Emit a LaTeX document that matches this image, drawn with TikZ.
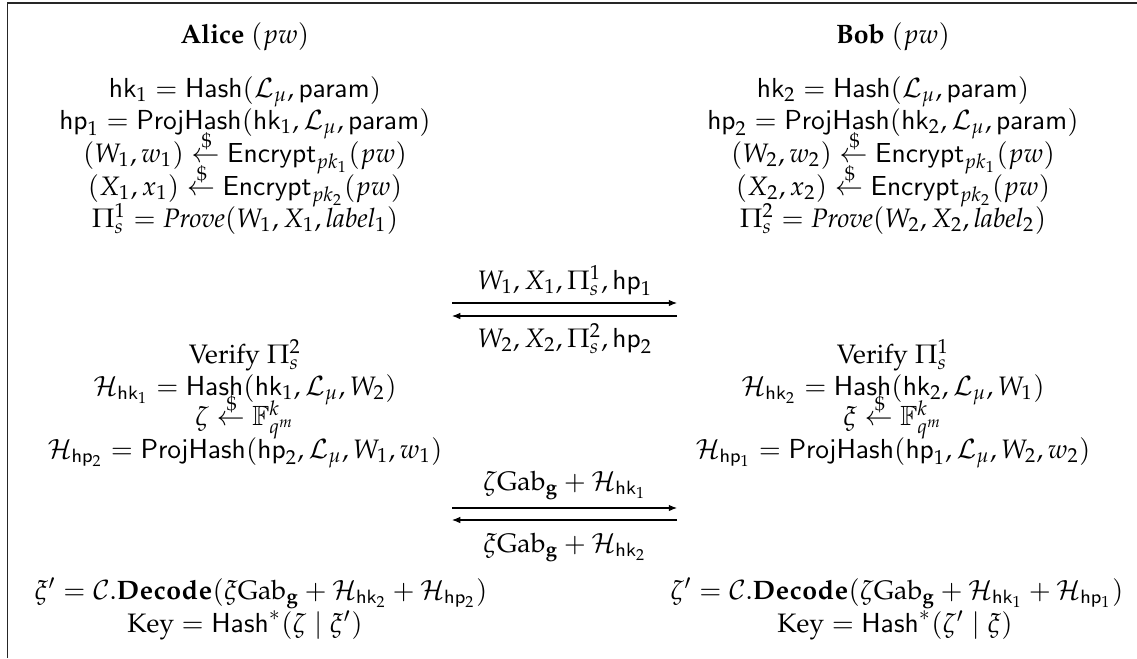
\documentclass[tikz,border=0pt]{standalone}
\usepackage{amsmath}
\usepackage[T1]{fontenc}
\usepackage{mathpazo}
\renewcommand{\sfdefault}{lmss}
\DeclareMathAlphabet{\mybb}{U}{msb}{m}{n}
\usetikzlibrary{arrows.meta}
\newcommand{\Lm}{\mathcal{L}_\mu}
\newcommand{\hkk}[1]{\mathsf{hk}_{#1}}
\newcommand{\hpp}[1]{\mathsf{hp}_{#1}}
\newcommand{\rnd}{\mathrel{\hbox{\ooalign{$\leftarrow$\cr\hidewidth\raisebox{5.2pt}{$\scriptstyle\mkern2mu\$$}\hidewidth\cr}}}}
\newcommand{\Gabg}{\mathrm{Gab}_{\mathbf{g}}}
\begin{document}
\begin{tikzpicture}[x=0.3636pt,y=-0.3636pt,
  every node/.style={inner sep=0pt,outer sep=0pt,anchor=base,font=\fontsize{9.7}{12}\selectfont},
  msg/.style={-{Latex[length=3pt,width=2.4pt]},line width=0.4pt},
  frame/.style={line width=0.7pt,draw=black!85}]
\useasboundingbox (0,0) rectangle (1137,658);
\draw[frame] (7.5,658) -- (7.5,3) -- (1137,3);
% Alice column
\node (alice) at (245,43) {\textbf{Alice} $(pw)$};
\node (l1) at (245,97) {$\hkk1 = \mathsf{Hash}(\Lm, \mathsf{param})$};
\node (l2) at (245,129) {$\hpp1 = \mathsf{ProjHash}(\hkk1, \Lm, \mathsf{param})$};
\node (l3) at (245,162) {$(W_1, w_1) \rnd \mathsf{Encrypt}_{pk_1}(pw)$};
\node (l4) at (245,195) {$(X_1, x_1) \rnd \mathsf{Encrypt}_{pk_2}(pw)$};
\node (l5) at (245,227) {$\Pi_s^1 = \mathit{Prove}(W_1, X_1, \mathit{label}_1)$};
\node (l6) at (245,363) {Verify $\Pi_s^2$};
\node (l7) at (245,395) {$\mathcal{H}_{\hkk1} = \mathsf{Hash}(\hkk1, \Lm, W_2)$};
\node (l8) at (245,425) {$\zeta \rnd \mybb{F}_{q^m}^k$};
\node (l9) at (245,458) {$\mathcal{H}_{\hpp2} = \mathsf{ProjHash}(\hpp2, \Lm, W_1, w_1)$};
\node (l10) at (261,599) {$\xi' = \mathcal{C}.\mathbf{Decode}(\xi\Gabg + \mathcal{H}_{\hkk2} + \mathcal{H}_{\hpp2})$};
\node (l11) at (245,632) {$\mathrm{Key} = \mathsf{Hash}^*(\zeta \mid \xi')$};
% Bob column
\node (bob) at (893,43) {\textbf{Bob} $(pw)$};
\node (r1) at (893,97) {$\hkk2 = \mathsf{Hash}(\Lm, \mathsf{param})$};
\node (r2) at (893,129) {$\hpp2 = \mathsf{ProjHash}(\hkk2, \Lm, \mathsf{param})$};
\node (r3) at (893,162) {$(W_2, w_2) \rnd \mathsf{Encrypt}_{pk_1}(pw)$};
\node (r4) at (893,195) {$(X_2, x_2) \rnd \mathsf{Encrypt}_{pk_2}(pw)$};
\node (r5) at (893,227) {$\Pi_s^2 = \mathit{Prove}(W_2, X_2, \mathit{label}_2)$};
\node (r6) at (893,363) {Verify $\Pi_s^1$};
\node (r7) at (893,395) {$\mathcal{H}_{\hkk2} = \mathsf{Hash}(\hkk2, \Lm, W_1)$};
\node (r8) at (893,425) {$\xi \rnd \mybb{F}_{q^m}^k$};
\node (r9) at (893,458) {$\mathcal{H}_{\hpp1} = \mathsf{ProjHash}(\hpp1, \Lm, W_2, w_2)$};
\node (r10) at (897,599) {$\zeta' = \mathcal{C}.\mathbf{Decode}(\zeta\Gabg + \mathcal{H}_{\hkk1} + \mathcal{H}_{\hpp1})$};
\node (r11) at (895,632) {$\mathrm{Key} = \mathsf{Hash}^*(\zeta' \mid \xi)$};
% messages
\node (m1) at (565,289) {$W_1, X_1, \Pi_s^1, \hpp1$};
\node (m2) at (565,347) {$W_2, X_2, \Pi_s^2, \hpp2$};
\coordinate (a1l) at (452,303); \coordinate (a1r) at (677,303);
\coordinate (a2l) at (452,316); \coordinate (a2r) at (677,316);
\draw[msg] (a1l) -- (a1r);
\draw[msg] (a2r) -- (a2l);
\node (m3) at (565,490) {$\zeta\Gabg + \mathcal{H}_{\hkk1}$};
\node (m4) at (565,552) {$\xi\Gabg + \mathcal{H}_{\hkk2}$};
\coordinate (a3l) at (452,508); \coordinate (a3r) at (677,508);
\coordinate (a4l) at (452,520); \coordinate (a4r) at (677,520);
\draw[msg] (a3l) -- (a3r);
\draw[msg] (a4r) -- (a4l);
\end{tikzpicture}
\end{document}
